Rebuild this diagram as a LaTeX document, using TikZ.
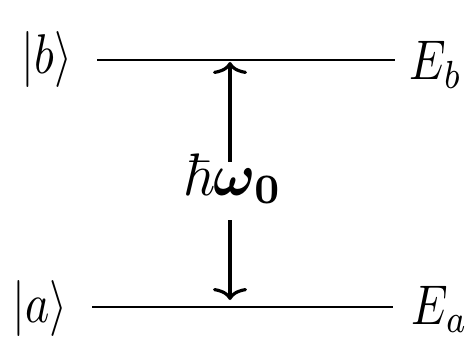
\documentclass[tikz,border=0pt]{standalone}
\usepackage{amsmath,amssymb,bm}
\usetikzlibrary{arrows.meta}
\tikzset{
  level/.style={line width=2.8pt},
  trans/.style={line width=3.2pt,-{To[length=12pt,width=34pt,line width=3.2pt]}},
  lbl/.style={inner sep=0pt,xscale=4.6,yscale=5.6},
  biglbl/.style={inner sep=0pt,xscale=5.6,yscale=6}
}
\begin{document}
\begin{tikzpicture}[x=1pt,y=-1pt]
\useasboundingbox (0,0) rectangle (472,353);
\coordinate (b1) at (97,60);
\coordinate (b2) at (395,60);
\coordinate (a1) at (92,307);
\coordinate (a2) at (393,307);
\draw[level] (b1) -- (b2);
\draw[level] (a1) -- (a2);
\node[lbl,anchor=base] (kb) at (47,74) {$|b\rangle$};
\node[lbl,anchor=base] (ka) at (40,322) {$|a\rangle$};
\node[lbl,anchor=base west] (Eb) at (409,80) {$E_b$};
\node[lbl,anchor=base west] (Ea) at (411,324) {$E_a$};
\node[biglbl,anchor=base] (hw) at (233,195) {$\hbar\boldsymbol{\omega}_{\boldsymbol{0}}$};
\coordinate (top) at (230,62);
\coordinate (bot) at (230,300);
\coordinate (s1) at (230,162);
\coordinate (s2) at (230,220);
\draw[trans] (s1) -- (top);
\draw[trans] (s2) -- (bot);
\end{tikzpicture}
\end{document}
